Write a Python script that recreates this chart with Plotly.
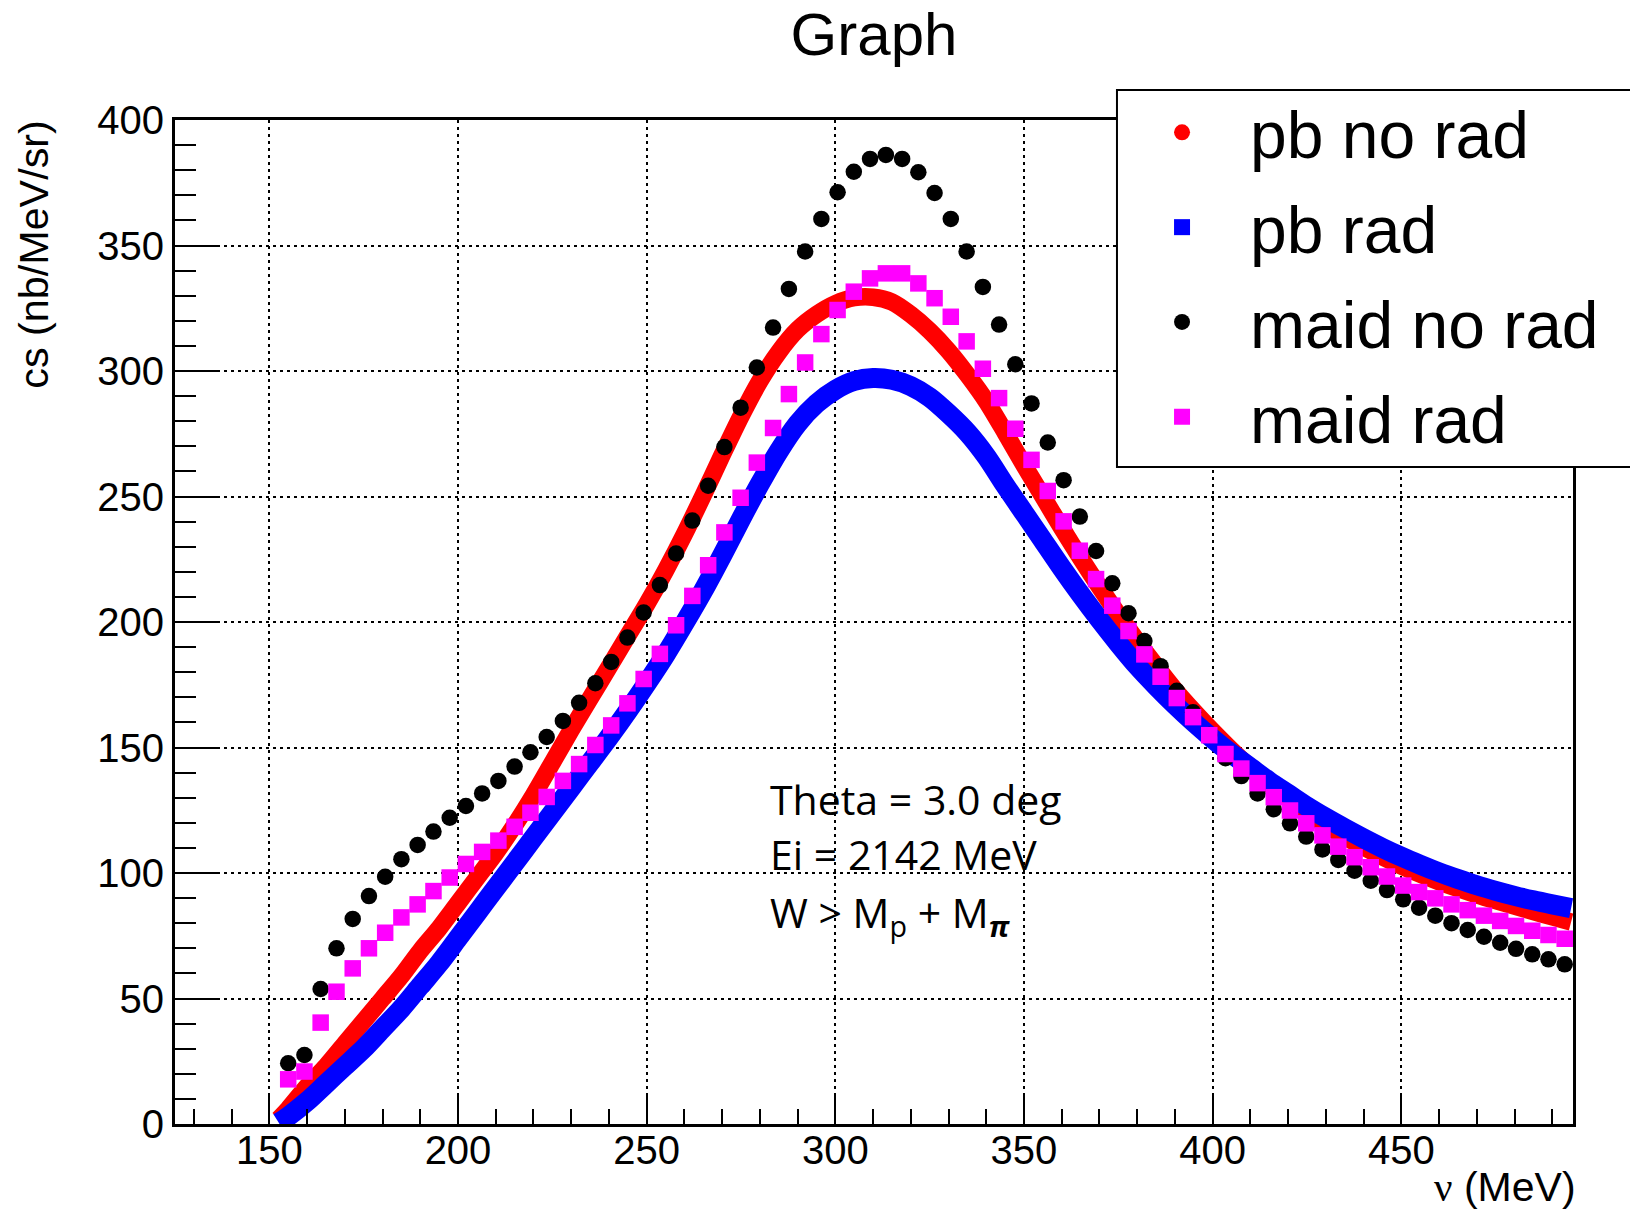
import plotly.graph_objects as go

# ---------------- data ----------------
# pb (dense curves, read every 5 MeV)
pb_nu = [152.5, 155, 160, 165, 170, 175, 180, 185, 190, 195, 200, 205, 210, 215, 220, 225,
         230, 235, 240, 245, 250, 255, 260, 265, 270, 275, 280, 285, 290, 295, 300, 305,
         310, 315, 320, 325, 330, 335, 340, 345, 350, 355, 360, 365, 370, 375, 380, 385,
         390, 395, 400, 405, 410, 415, 420, 425, 430, 435, 440, 445, 450, 455, 460, 465,
         470, 475, 480, 485, 490, 495]
pb_norad = [2, 6, 15, 23, 32, 41, 50, 59, 69, 78, 88, 98, 108, 119, 131, 144,
            157, 169.5, 182, 194.5, 207, 220.5, 235, 250.5, 266.5, 282, 296, 307.5, 316.5, 322.5, 326.8, 329.2,
            329.4, 327.5, 322.5, 316, 308, 298.5, 288, 275.5, 262.5, 250, 237.5, 225.5, 214, 203, 192.5, 182.5,
            173, 164.5, 156.5, 149, 142, 135.5, 129.5, 124, 119, 114.5, 110.3, 106.4, 102.8, 99.5, 96.5, 93.8,
            91.3, 89, 86.8, 84.6, 82.5, 80.5]
pb_rad = [0.5, 3, 9, 16, 23, 30, 38, 46, 55, 64, 74, 84, 94, 104, 114, 124,
          134, 144, 154, 164.5, 175.5, 187, 199.5, 212.5, 226.5, 241, 255, 268, 279, 287, 292.5, 296,
          297.2, 296.5, 294, 289.5, 283, 275.5, 266, 254.5, 243.5, 232.5, 221.5, 211, 201, 191.5, 182.5, 174.5,
          167, 160, 153.5, 147.5, 142, 136.5, 131.5, 126.5, 122, 117.8, 113.8, 110, 106.5, 103.3, 100.3, 97.6,
          95.1, 92.9, 90.9, 89.1, 87.5, 86]

# maid (sparse points)
maid_nu = [155.0, 159.3, 163.6, 167.8, 172.1, 176.4, 180.7, 185.0, 189.3, 193.5,
           197.8, 202.1, 206.4, 210.7, 215.0, 219.2, 223.5, 227.8, 232.1, 236.4,
           240.6, 244.9, 249.2, 253.5, 257.8, 262.1, 266.3, 270.6, 274.9, 279.2,
           283.5, 287.7, 292.0, 296.3, 300.6, 304.9, 309.2, 313.4, 317.7, 322.0,
           326.3, 330.6, 334.8, 339.1, 343.4, 347.7, 352.0, 356.3, 360.5, 364.8,
           369.1, 373.4, 377.7, 381.9, 386.2, 390.5, 394.8, 399.1, 403.4, 407.6,
           411.9, 416.2, 420.5, 424.8, 429.1, 433.3, 437.6, 441.9, 446.2, 450.5,
           454.7, 459.0, 463.3, 467.6, 471.9, 476.2, 480.4, 484.7, 489.0, 493.3]
maid_norad = [24.2, 27.5, 53.8, 70.0, 81.7, 90.8, 98.5, 105.5, 111.2, 116.5,
              122.0, 126.7, 131.7, 136.7, 142.4, 148.1, 154.2, 160.6, 167.8, 175.6,
              184.1, 193.8, 203.8, 214.7, 227.3, 240.4, 254.3, 269.7, 285.4, 301.4,
              317.3, 332.7, 347.6, 360.6, 371.2, 379.4, 384.5, 386.1, 384.5, 379.2,
              370.9, 360.6, 347.6, 333.5, 318.5, 302.7, 287.1, 271.5, 256.5, 242.0,
              228.3, 215.4, 203.5, 192.4, 182.4, 172.6, 164.0, 155.0, 145.7, 138.6,
              131.7, 125.4, 119.8, 114.5, 109.4, 105.2, 100.9, 96.9, 93.2, 89.5,
              86.2, 83.0, 80.0, 77.3, 74.6, 72.2, 69.8, 67.6, 65.6, 63.6]
maid_rad = [17.8, 20.9, 40.4, 52.7, 62.0, 70.0, 76.2, 82.3, 87.5, 92.8,
            98.2, 103.6, 108.4, 112.9, 118.4, 124.0, 130.3, 136.7, 143.4, 151.0,
            158.8, 167.6, 177.3, 187.3, 198.7, 210.4, 222.6, 235.7, 249.5, 263.5,
            277.3, 290.8, 303.4, 314.7, 324.3, 331.6, 336.9, 338.9, 338.9, 334.9,
            329.0, 321.6, 311.8, 300.9, 289.2, 277.0, 264.6, 252.2, 240.1, 228.4,
            217.1, 206.5, 196.4, 187.1, 178.2, 169.7, 162.1, 154.9, 147.4, 141.6,
            135.8, 130.2, 124.9, 119.8, 115.0, 110.5, 106.3, 102.3, 98.6, 95.0,
            92.4, 89.9, 87.5, 85.2, 83.0, 80.9, 78.9, 77.0, 75.3, 73.8]

series_names = ["pb no rad", "pb rad", "maid no rad", "maid rad"]
x_ticks = [150, 200, 250, 300, 350, 400, 450]
y_ticks = [0, 50, 100, 150, 200, 250, 300, 350, 400]

FONT = "Liberation Sans"

fig = go.Figure()

# dense pb curves drawn as thick bands
fig.add_trace(go.Scatter(x=pb_nu, y=pb_norad, mode="lines",
                         line=dict(color="#ff0000", width=17.5, shape="spline", smoothing=0.8),
                         showlegend=False, hoverinfo="skip"))
fig.add_trace(go.Scatter(x=pb_nu, y=pb_rad, mode="lines",
                         line=dict(color="#0000ff", width=20, shape="spline", smoothing=0.8),
                         showlegend=False, hoverinfo="skip"))
fig.add_trace(go.Scatter(x=maid_nu, y=maid_norad, mode="markers",
                         marker=dict(color="black", size=16.5, symbol="circle", line=dict(width=0)),
                         showlegend=False))
fig.add_trace(go.Scatter(x=maid_nu, y=maid_rad, mode="markers",
                         marker=dict(color="#ff00ff", size=16.5, symbol="square", line=dict(width=0)),
                         showlegend=False))

# legend entries (marker symbols as in the reference)
leg_style = [("#ff0000", "circle"), ("#0000ff", "square"), ("black", "circle"), ("#ff00ff", "square")]
for i, (name, (col, sym)) in enumerate(zip(series_names, leg_style)):
    fig.add_trace(go.Scatter(x=[None], y=[None], mode="markers", name=name, legendgroup=f"g{i}",
                             marker=dict(color=col, size=18, symbol=sym, line=dict(width=0))))

axis_common = dict(showline=True, linecolor="black", linewidth=3, mirror=True,
                   ticks="inside", tickcolor="black", tickwidth=2,
                   showgrid=True, gridcolor="black", gridwidth=2, griddash="3px,4px",
                   zeroline=False, tickfont=dict(family=FONT, size=40, color="black"))

fig.update_xaxes(range=[125, 495.5], tickvals=x_ticks, ticklen=31, ticklabelstandoff=-11,
                 minor=dict(dtick=10, tick0=0, ticks="inside", ticklen=15, tickwidth=2,
                            tickcolor="black", showgrid=False),
                 **axis_common)
fig.update_yaxes(range=[0, 400], tickvals=y_ticks, ticklen=42, ticklabelstandoff=0,
                 minor=dict(dtick=10, tick0=0, ticks="inside", ticklen=21, tickwidth=2,
                            tickcolor="black", showgrid=False),
                 **axis_common)

annos = [
    dict(text="Theta = 3.0 deg", x=0.424, y=0.3237),
    dict(text="Ei = 2142 MeV", x=0.424, y=0.2689),
    dict(text="W &gt; M<sub>p</sub> + M<sub><b><i>π</i></b></sub>", x=0.424, y=0.2082),
]
for a in annos:
    fig.add_annotation(text=a["text"], x=a["x"], y=a["y"], xref="paper", yref="paper",
                       xanchor="left", yanchor="middle", showarrow=False,
                       font=dict(family="Open Sans", size=41, color="black"))

# axis titles (ROOT style: right / top aligned)
fig.add_annotation(text="<span style='font-family:Liberation Serif'>ν</span> (MeV)", x=1.0036, y=-0.0625,
                   xref="paper", yref="paper", xanchor="right", yanchor="middle", showarrow=False,
                   font=dict(family=FONT, size=41, color="black"))
fig.add_annotation(text="cs (nb/MeV/sr)", x=-0.1009, y=0.8658, textangle=-90,
                   xref="paper", yref="paper", xanchor="center", yanchor="middle", showarrow=False,
                   font=dict(family=FONT, size=41.3, color="black"))

# legend frame (extends past the right edge as in the reference)
fig.add_shape(type="rect", xref="paper", yref="paper", x0=0.6738, x1=1.2, y0=0.6544, y1=1.0299,
              line=dict(color="black", width=2), fillcolor="white", layer="above")

fig.update_layout(
    width=1630, height=1211,
    margin=dict(l=175, r=57, t=120, b=87, autoexpand=False),
    paper_bgcolor="white", plot_bgcolor="white",
    title=dict(text="Graph", x=0.5, xref="paper", xanchor="center", y=1 - 34 / 1211, yref="container",
               yanchor="middle", font=dict(family=FONT, size=60, color="black")),
    legend=dict(x=0.6717, y=1.0369, xanchor="left", yanchor="top", bgcolor="rgba(0,0,0,0)",
                borderwidth=0, itemwidth=126, tracegroupgap=6,
                font=dict(family=FONT, size=66, color="black")),
    showlegend=True,
)

fig.write_html("out.html")
